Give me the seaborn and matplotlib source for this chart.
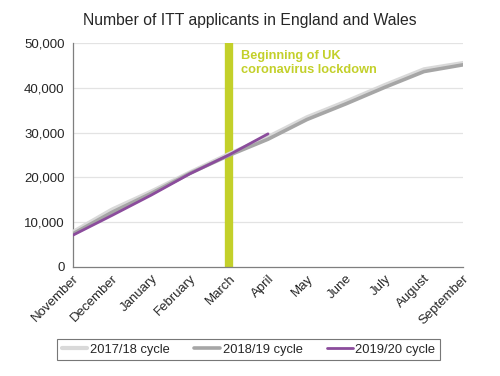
import matplotlib
matplotlib.use("Agg")
import matplotlib.pyplot as plt
import seaborn as sns
import pandas as pd

months = ["November", "December", "January", "February", "March", "April",
          "May", "June", "July", "August", "September"]
cycle_1718 = [7800, 12800, 16800, 21100, 25200, 29000, 33400, 36900, 40600, 44100, 45500]
cycle_1819 = [7400, 12200, 16400, 20900, 24900, 28500, 32900, 36400, 40100, 43600, 45100]
cycle_1920 = [7100, 11500, 16000, 20800, 25000, 29700]
series_names = ["2017/18 cycle", "2018/19 cycle", "2019/20 cycle"]
lockdown_month = "March"

rows = []
for name, vals in zip(series_names, [cycle_1718, cycle_1819, cycle_1920]):
    for i, v in enumerate(vals):
        rows.append({"month": i, "value": v, "cycle": name})
df = pd.DataFrame(rows)

sns.set_style("white")
plt.rcParams["font.family"] = ["Liberation Sans", "DejaVu Sans"]

fig = plt.figure(figsize=(5, 3.76), dpi=100)
ax = fig.add_axes([0.146, 0.29, 0.78, 0.596])

for y in range(10000, 60000, 10000):
    ax.axhline(y, color="#e3e3e3", lw=0.9, zorder=0)

green = "#c3d02a"
ax.axvline(months.index(lockdown_month), color=green, lw=6, zorder=1)
ax.text(months.index(lockdown_month) + 0.3, 48300, "Beginning of UK\ncoronavirus lockdown",
        color=green, fontsize=9.2, fontweight="bold", va="top", ha="left", linespacing=1.15)

palette = {"2017/18 cycle": "#d9d9d9", "2018/19 cycle": "#a6a6a6", "2019/20 cycle": "#8b4c9c"}
sizes = {"2017/18 cycle": 3.0, "2018/19 cycle": 2.6, "2019/20 cycle": 2.0}
sns.lineplot(data=df, x="month", y="value", hue="cycle", hue_order=series_names,
             palette=palette, size="cycle", sizes=sizes, size_order=series_names,
             ax=ax, legend=False, zorder=3)

ax.set_xlim(0, len(months) - 1)
ax.set_ylim(0, 50000)
ax.set_yticks(range(0, 60000, 10000))
ax.set_yticklabels([f"{v:,}" for v in range(0, 60000, 10000)], fontsize=9.5)
ax.set_xticks(range(len(months)))
ax.set_xticklabels(months, rotation=45, ha="right", rotation_mode="anchor", fontsize=9.5)
ax.tick_params(axis="both", length=0, pad=6)
ax.tick_params(axis="x", pad=4)
ax.set_xlabel("")
ax.set_ylabel("")
for s in ["top", "right"]:
    ax.spines[s].set_visible(False)
for s in ["left", "bottom"]:
    ax.spines[s].set_color("#7f7f7f")
    ax.spines[s].set_linewidth(0.9)

fig.text(0.5, 0.945, "Number of ITT applicants in England and Wales", ha="center",
         va="center", fontsize=11.3)

from matplotlib.lines import Line2D
handles = [Line2D([], [], color=palette[n], lw=sizes[n]) for n in series_names]
leg = fig.legend(handles, series_names, loc="center", bbox_to_anchor=(0.497, 0.07),
                 ncol=3, frameon=True, fontsize=9.3, fancybox=False, edgecolor="#555555",
                 handlelength=2.0, handletextpad=0.2, columnspacing=1.9,
                 borderpad=0.35)
leg.get_frame().set_linewidth(0.8)

fig.savefig("out.png", dpi=100)
